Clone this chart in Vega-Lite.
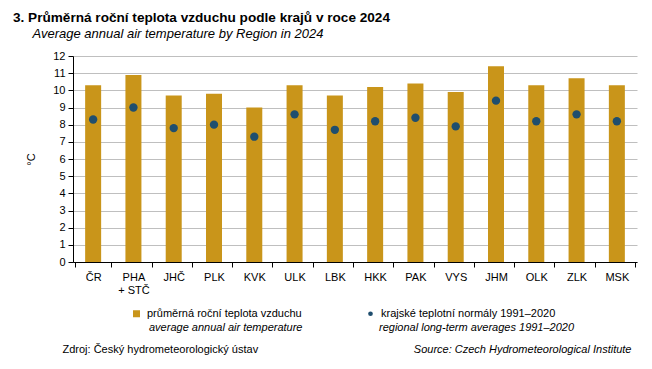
{
  "$schema": "https://vega.github.io/schema/vega-lite/v6.json",
  "width": 564,
  "height": 206,
  "autosize": {"type": "none"},
  "padding": {"left": 73, "top": 56, "right": 15, "bottom": 107},
  "background": "white",
  "config": {"font": "Liberation Sans", "view": {"stroke": null}},
  "title": {
    "text": "3. Průměrná roční teplota vzduchu podle krajů v roce 2024",
    "subtitle": "\u200b\u2003\u2002Average annual air temperature by Region in 2024",
    "anchor": "start",
    "frame": "group",
    "dx": -60,
    "offset": 9,
    "fontSize": 13.6,
    "fontWeight": "bold",
    "color": "#000000",
    "subtitleFontSize": 13,
    "subtitleFontStyle": "italic",
    "subtitleColor": "#000000",
    "subtitlePadding": 3
  },
  "data": {
    "values": [
      {"region": "ČR", "t": 10.3, "n": 8.3},
      {"region": "PHA + STČ", "t": 10.9, "n": 9.0},
      {"region": "JHČ", "t": 9.7, "n": 7.8},
      {"region": "PLK", "t": 9.8, "n": 8.0},
      {"region": "KVK", "t": 9.0, "n": 7.3},
      {"region": "ULK", "t": 10.3, "n": 8.6},
      {"region": "LBK", "t": 9.7, "n": 7.7},
      {"region": "HKK", "t": 10.2, "n": 8.2},
      {"region": "PAK", "t": 10.4, "n": 8.4},
      {"region": "VYS", "t": 9.9, "n": 7.9},
      {"region": "JHM", "t": 11.4, "n": 9.4},
      {"region": "OLK", "t": 10.3, "n": 8.2},
      {"region": "ZLK", "t": 10.7, "n": 8.6},
      {"region": "MSK", "t": 10.3, "n": 8.2}
    ]
  },
  "layer": [
    {
      "mark": {"type": "bar", "size": 16},
      "encoding": {
        "x": {
          "field": "region", "type": "nominal", "sort": null,
          "axis": {
            "title": "Zdroj: Český hydrometeorologický ústav",
            "titleX": -11, "titleY": 90, "titleAlign": "left", "titleBaseline": "alphabetic",
            "titleFontWeight": "normal", "titleFontSize": 11, "titleColor": "#000000",
            "labelAngle": 0, "labelFontSize": 11, "labelColor": "#000000", "labelPadding": 4,
            "labelExpr": "datum.value == 'PHA + STČ' ? ['PHA', '+ STČ'] : datum.value",
            "tickBand": "extent", "tickSize": 5, "tickColor": "#000000",
            "domainColor": "#000000", "grid": false
          }
        },
        "y": {
          "field": "t", "type": "quantitative",
          "scale": {"domain": [0, 12], "nice": false},
          "axis": {
            "title": "°C", "titleFontWeight": "normal", "titleFontSize": 11, "titleColor": "#000000",
            "titlePadding": 16,
            "values": [0,1,2,3,4,5,6,7,8,9,10,11,12],
            "labelFontSize": 11, "labelColor": "#000000", "labelPadding": 3,
            "tickSize": 5, "tickColor": "#000000", "domainColor": "#000000",
            "grid": true, "gridColor": "#BFBFBF", "gridWidth": 1
          }
        },
        "color": {
          "datum": "průměrná roční teplota vzduchu",
          "scale": {
            "domain": ["průměrná roční teplota vzduchu", "krajské teplotní normály 1991–2020"],
            "range": ["#C9951A", "#1F4E6E"]
          },
          "legend": {
            "title": null,
            "orient": "none",
            "legendX": 58,
            "legendY": 252,
            "direction": "horizontal",
            "columns": 2,
            "columnPadding": 63,
            "padding": 0,
            "labelFontSize": 11,
            "labelColor": "#000000",
            "labelOffset": 5,
            "labelLimit": 300,
            "encode": {
              "symbols": {
                "update": {
                  "shape": {"signal": "datum.value == 'průměrná roční teplota vzduchu' ? 'square' : 'circle'"},
                  "size": {"signal": "datum.value == 'průměrná roční teplota vzduchu' ? 49 : 22"},
                  "strokeWidth": {"value": 0}
                }
              }
            }
          }
        },
        "opacity": {
          "datum": "average annual air temperature",
          "scale": {
            "domain": ["average annual air temperature", "regional long-term averages 1991–2020"],
            "range": [1, 1]
          },
          "legend": {
            "title": null,
            "orient": "none",
            "legendX": 58,
            "legendY": 266,
            "direction": "horizontal",
            "columns": 2,
            "columnPadding": 58,
            "padding": 0,
            "labelFontSize": 11,
            "labelFontStyle": "italic",
            "labelColor": "#000000",
            "labelOffset": 7,
            "labelLimit": 300,
            "symbolSize": 0,
            "symbolStrokeWidth": 0,
            "symbolFillColor": "transparent",
            "symbolStrokeColor": "transparent"
          }
        }
      }
    },
    {
      "mark": {"type": "point", "filled": true, "size": 70},
      "encoding": {
        "x": {"field": "region", "type": "nominal", "sort": null},
        "y": {
          "field": "n", "type": "quantitative",
          "scale": {"domain": [0, 12], "nice": false},
          "axis": {
            "orient": "right",
            "title": "Source: Czech Hydrometeorological Institute",
            "titleAngle": 0, "titleFontStyle": "italic", "titleFontWeight": "normal",
            "titleFontSize": 11, "titleColor": "#000000",
            "titleAlign": "right", "titleBaseline": "alphabetic",
            "titleX": -6, "titleY": 296,
            "labels": false, "ticks": false, "domain": false, "grid": false
          }
        },
        "color": {"datum": "krajské teplotní normály 1991–2020"},
        "opacity": {"datum": "regional long-term averages 1991–2020"}
      }
    }
  ],
  "resolve": {"scale": {"y": "independent"}, "axis": {"y": "independent"}}
}
